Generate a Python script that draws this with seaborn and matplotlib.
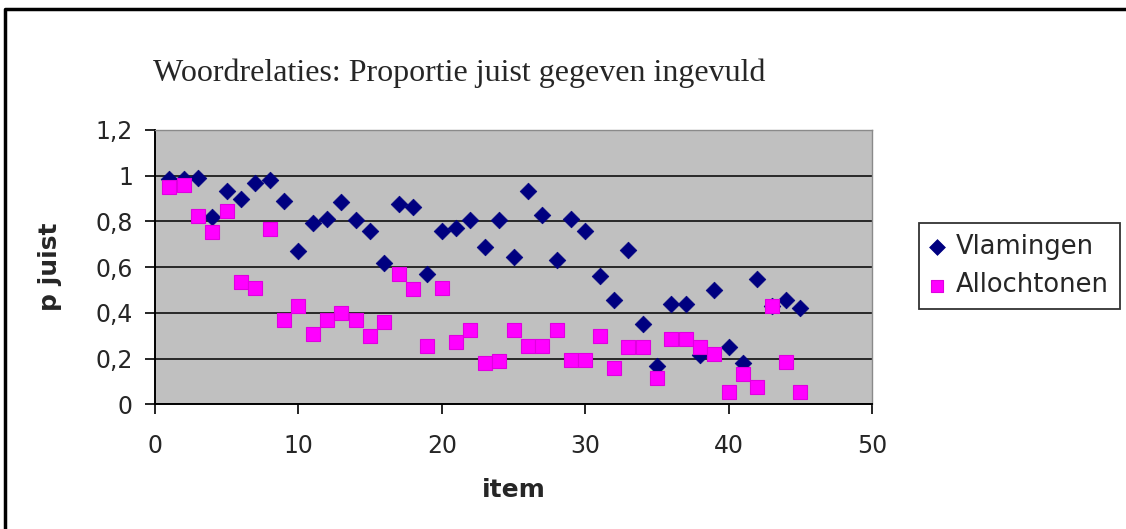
import matplotlib
matplotlib.use("agg")
import matplotlib.pyplot as plt
import pandas as pd
import seaborn as sns
from matplotlib.lines import Line2D

# item numbers 1..45
items = list(range(1, 46))

vlamingen = [
    0.985, 0.985, 0.99, 0.82, 0.935, 0.90, 0.97, 0.98, 0.89, 0.67,
    0.795, 0.81, 0.885, 0.805, 0.76, 0.62, 0.875, 0.865, 0.57, 0.76,
    0.77, 0.805, 0.69, 0.805, 0.645, 0.935, 0.83, 0.63, 0.81, 0.76,
    0.56, 0.455, 0.675, 0.35, 0.17, 0.44, 0.44, 0.215, 0.50, 0.25,
    0.18, 0.55, 0.43, 0.455, 0.42,
]

allochtonen = [
    0.95, 0.96, 0.825, 0.755, 0.845, 0.535, 0.51, 0.765, 0.37, 0.43,
    0.31, 0.37, 0.40, 0.37, 0.30, 0.36, 0.57, 0.505, 0.255, 0.51,
    0.275, 0.325, 0.18, 0.19, 0.325, 0.255, 0.255, 0.325, 0.195, 0.195,
    0.30, 0.16, 0.25, 0.25, 0.115, 0.285, 0.285, 0.25, 0.22, 0.055,
    0.135, 0.075, 0.43, 0.185, 0.055,
]

y_ticks = [0, 0.2, 0.4, 0.6, 0.8, 1.0, 1.2]
y_labels = ["0", "0,2", "0,4", "0,6", "0,8", "1", "1,2"]
x_ticks = [0, 10, 20, 30, 40, 50]

df = pd.DataFrame({"item": items, "Vlamingen": vlamingen, "Allochtonen": allochtonen})

sns.set_style("white")
plt.rcParams["font.family"] = ["DejaVu Sans"]

fig = plt.figure(figsize=(11.26, 5.29), dpi=100)
ax = fig.add_axes([0.1377, 0.2354, 0.6367, 0.5189])
ax.set_facecolor("#C0C0C0")

sns.scatterplot(data=df, x="item", y="Vlamingen", ax=ax, marker="D", s=72,
                color="#000080", edgecolor="#000080", linewidth=0.5, label="Vlamingen", zorder=3)
sns.scatterplot(data=df, x="item", y="Allochtonen", ax=ax, marker="s", s=95,
                color="#FF00FF", edgecolor="#E000E0", linewidth=0.8, label="Allochtonen", zorder=4)

ax.set_xlim(0, 50)
ax.set_ylim(0, 1.2)
ax.set_xticks(x_ticks)
ax.set_yticks(y_ticks)
ax.set_yticklabels(y_labels)
ax.yaxis.grid(True, color="black", linewidth=1.1)
ax.xaxis.grid(False)
ax.set_axisbelow(True)

ax.tick_params(axis="both", which="major", labelsize=17, direction="out",
               length=7, width=1.2, color="black")
ax.tick_params(axis="y", pad=9, left=True)
ax.tick_params(axis="x", pad=14, bottom=True)

for side in ["left", "bottom"]:
    ax.spines[side].set_color("black")
    ax.spines[side].set_linewidth(1.4)
for side in ["top", "right"]:
    ax.spines[side].set_color("#8a8a8a")
    ax.spines[side].set_linewidth(1.0)

ax.set_xlabel("item", fontsize=18, fontweight="bold", labelpad=15)
ax.set_ylabel("p juist", fontsize=18, fontweight="bold", labelpad=24)

fig.text(153 / 1126, 1 - 73 / 529, "Woordrelaties: Proportie juist gegeven ingevuld",
         fontsize=23, family=["Liberation Serif", "DejaVu Serif"], va="center", ha="left")

ax.legend_.remove()
handles, labels = ax.get_legend_handles_labels()
leg = fig.legend(handles, labels, loc="center left", bbox_to_anchor=(919 / 1126, 1 - 266 / 529),
                 borderaxespad=0, fontsize=18.5, frameon=True, fancybox=False, edgecolor="black",
                 handletextpad=0.45, borderpad=0.4, labelspacing=0.5, handlelength=0.6,
                 markerscale=0.95)
leg.get_frame().set_linewidth(1.3)

# outer chart frame (top and left edges)
fig.add_artist(Line2D([5 / 1126, 5 / 1126, 1.0], [0, 1 - 9 / 529, 1 - 9 / 529],
                      transform=fig.transFigure, color="black", linewidth=2.5))

fig.savefig("out.png", dpi=100)
